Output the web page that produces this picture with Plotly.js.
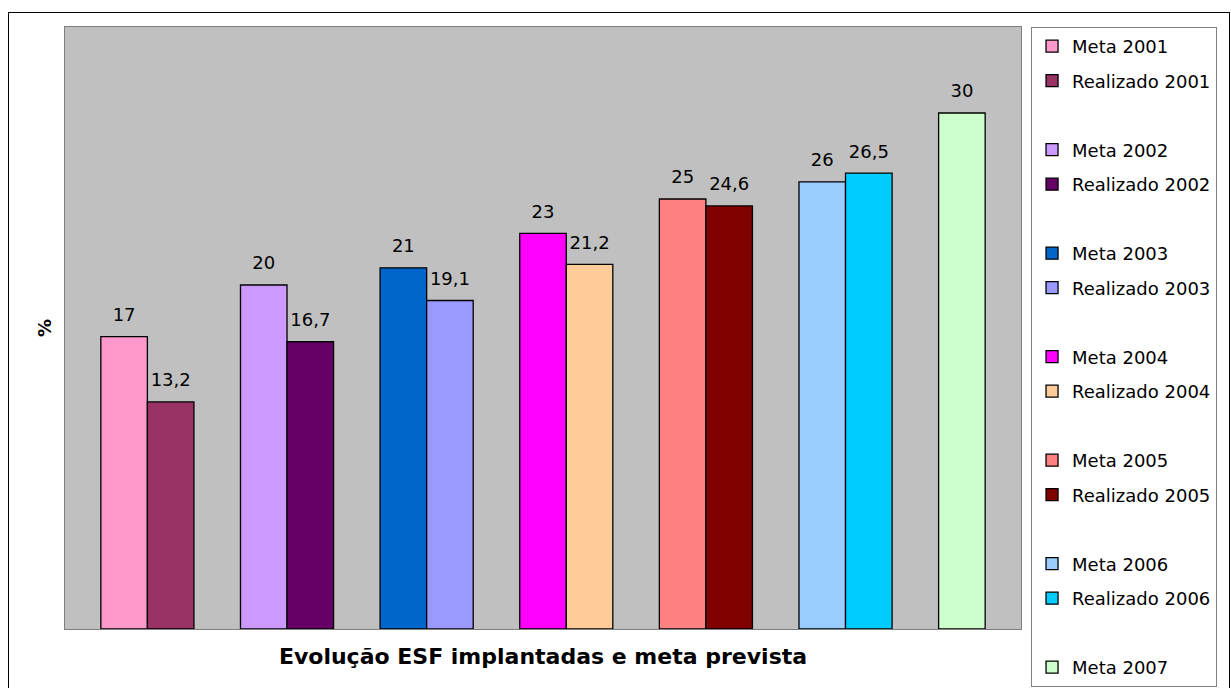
<!DOCTYPE html>
<html>
<head>
<meta charset="utf-8">
<script src="https://cdn.plot.ly/plotly-3.0.1.min.js"></script>
<style>
  html, body { margin: 0; padding: 0; background: #ffffff; overflow: hidden; }
  #frame { position: absolute; left: 8px; top: 12px; width: 1220px; height: 720px; border: 1px solid #000000; }
  #chart { width: 1220px; height: 720px; }
</style>
</head>
<body>
<div id="frame"><div id="chart"></div></div>
<script>
// ESF coverage: target (Meta) and achieved (Realizado) per year, in %
const years = ['2001', '2002', '2003', '2004', '2005', '2006', '2007'];
const metaValues = [17, 20, 21, 23, 25, 26, 30];
const realizadoValues = [13.2, 16.7, 19.1, 21.2, 24.6, 26.5, null];
const metaColors = ['#FF99CC', '#CC99FF', '#0066CC', '#FF00FF', '#FF8080', '#99CCFF', '#CCFFCC'];
const realizadoColors = ['#993366', '#660066', '#9999FF', '#FFCC99', '#800000', '#00CCFF', null];
const category = ['ESF'];

// gap (in % units) between a bar top and its value label
const labelLift = 0.5;
const labelFont = { family: 'DejaVu Sans', size: 18, color: '#000000' };

const fmt = v => String(v).replace('.', ',');

const barTraces = [];
const labelTraces = [];
let slot = 0;

function addBar(name, value, color) {
  const group = 's' + (slot++);
  barTraces.push({
    type: 'bar', name: name, x: category, y: [value],
    offsetgroup: group, legendgroup: group,
    marker: { color: color, line: { color: '#000000', width: 1.3 } },
    hoverinfo: 'name+y'
  });
  labelTraces.push({
    type: 'bar', x: category, y: [labelLift], base: [value],
    offsetgroup: group, showlegend: false,
    marker: { color: 'rgba(0,0,0,0)', line: { width: 0 } },
    text: [fmt(value)], textposition: 'outside', textfont: labelFont,
    constraintext: 'none', cliponaxis: false, hoverinfo: 'skip'
  });
}

function addSpacer() {
  // empty series: keeps a free slot between yearly pairs and a blank legend row
  const group = 's' + (slot++);
  barTraces.push({
    type: 'bar', name: ' ', x: category, y: [null],
    offsetgroup: group, legendgroup: group,
    marker: { color: 'rgba(0,0,0,0)', line: { width: 0 } },
    hoverinfo: 'skip'
  });
}

years.forEach((yr, i) => {
  addBar('Meta ' + yr, metaValues[i], metaColors[i]);
  if (realizadoValues[i] !== null) addBar('Realizado ' + yr, realizadoValues[i], realizadoColors[i]);
  if (i < years.length - 1) addSpacer();
});

const layout = {
  width: 1220, height: 720,
  margin: { l: 56, r: 208, t: 14, b: 104 },
  paper_bgcolor: '#ffffff',
  plot_bgcolor: '#C0C0C0',
  barmode: 'group',
  bargap: 0.075,
  bargroupgap: 0,
  showlegend: true,
  font: { family: 'DejaVu Sans', color: '#000000' },
  xaxis: {
    type: 'category', range: [-0.5, 0.5], fixedrange: true,
    showticklabels: false, ticks: '', showgrid: false, zeroline: false,
    showline: true, mirror: true, linecolor: '#808080', linewidth: 1,
    title: {
      text: 'Evolução ESF implantadas e meta prevista', standoff: 19,
      font: { family: 'DejaVu Sans', size: 22, weight: 'bold', color: '#000000' }
    }
  },
  yaxis: {
    range: [0, 35], fixedrange: true,
    showticklabels: false, ticks: '', showgrid: false, zeroline: false,
    showline: true, mirror: true, linecolor: '#808080', linewidth: 1,
    title: {
      text: '%', standoff: 7,
      font: { family: 'DejaVu Sans', size: 18, weight: 'bold', color: '#000000' }
    }
  },
  legend: {
    x: 1.0105, xanchor: 'left', y: 1, yanchor: 'top', maxheight: 700,
    traceorder: 'grouped', tracegroupgap: 8.1,
    bgcolor: '#ffffff', bordercolor: '#808080', borderwidth: 1,
    font: { family: 'DejaVu Sans', size: 18, color: '#000000' }
  }
};

Plotly.newPlot('chart', barTraces.concat(labelTraces), layout, { displayModeBar: false, staticPlot: true });
</script>
</body>
</html>
